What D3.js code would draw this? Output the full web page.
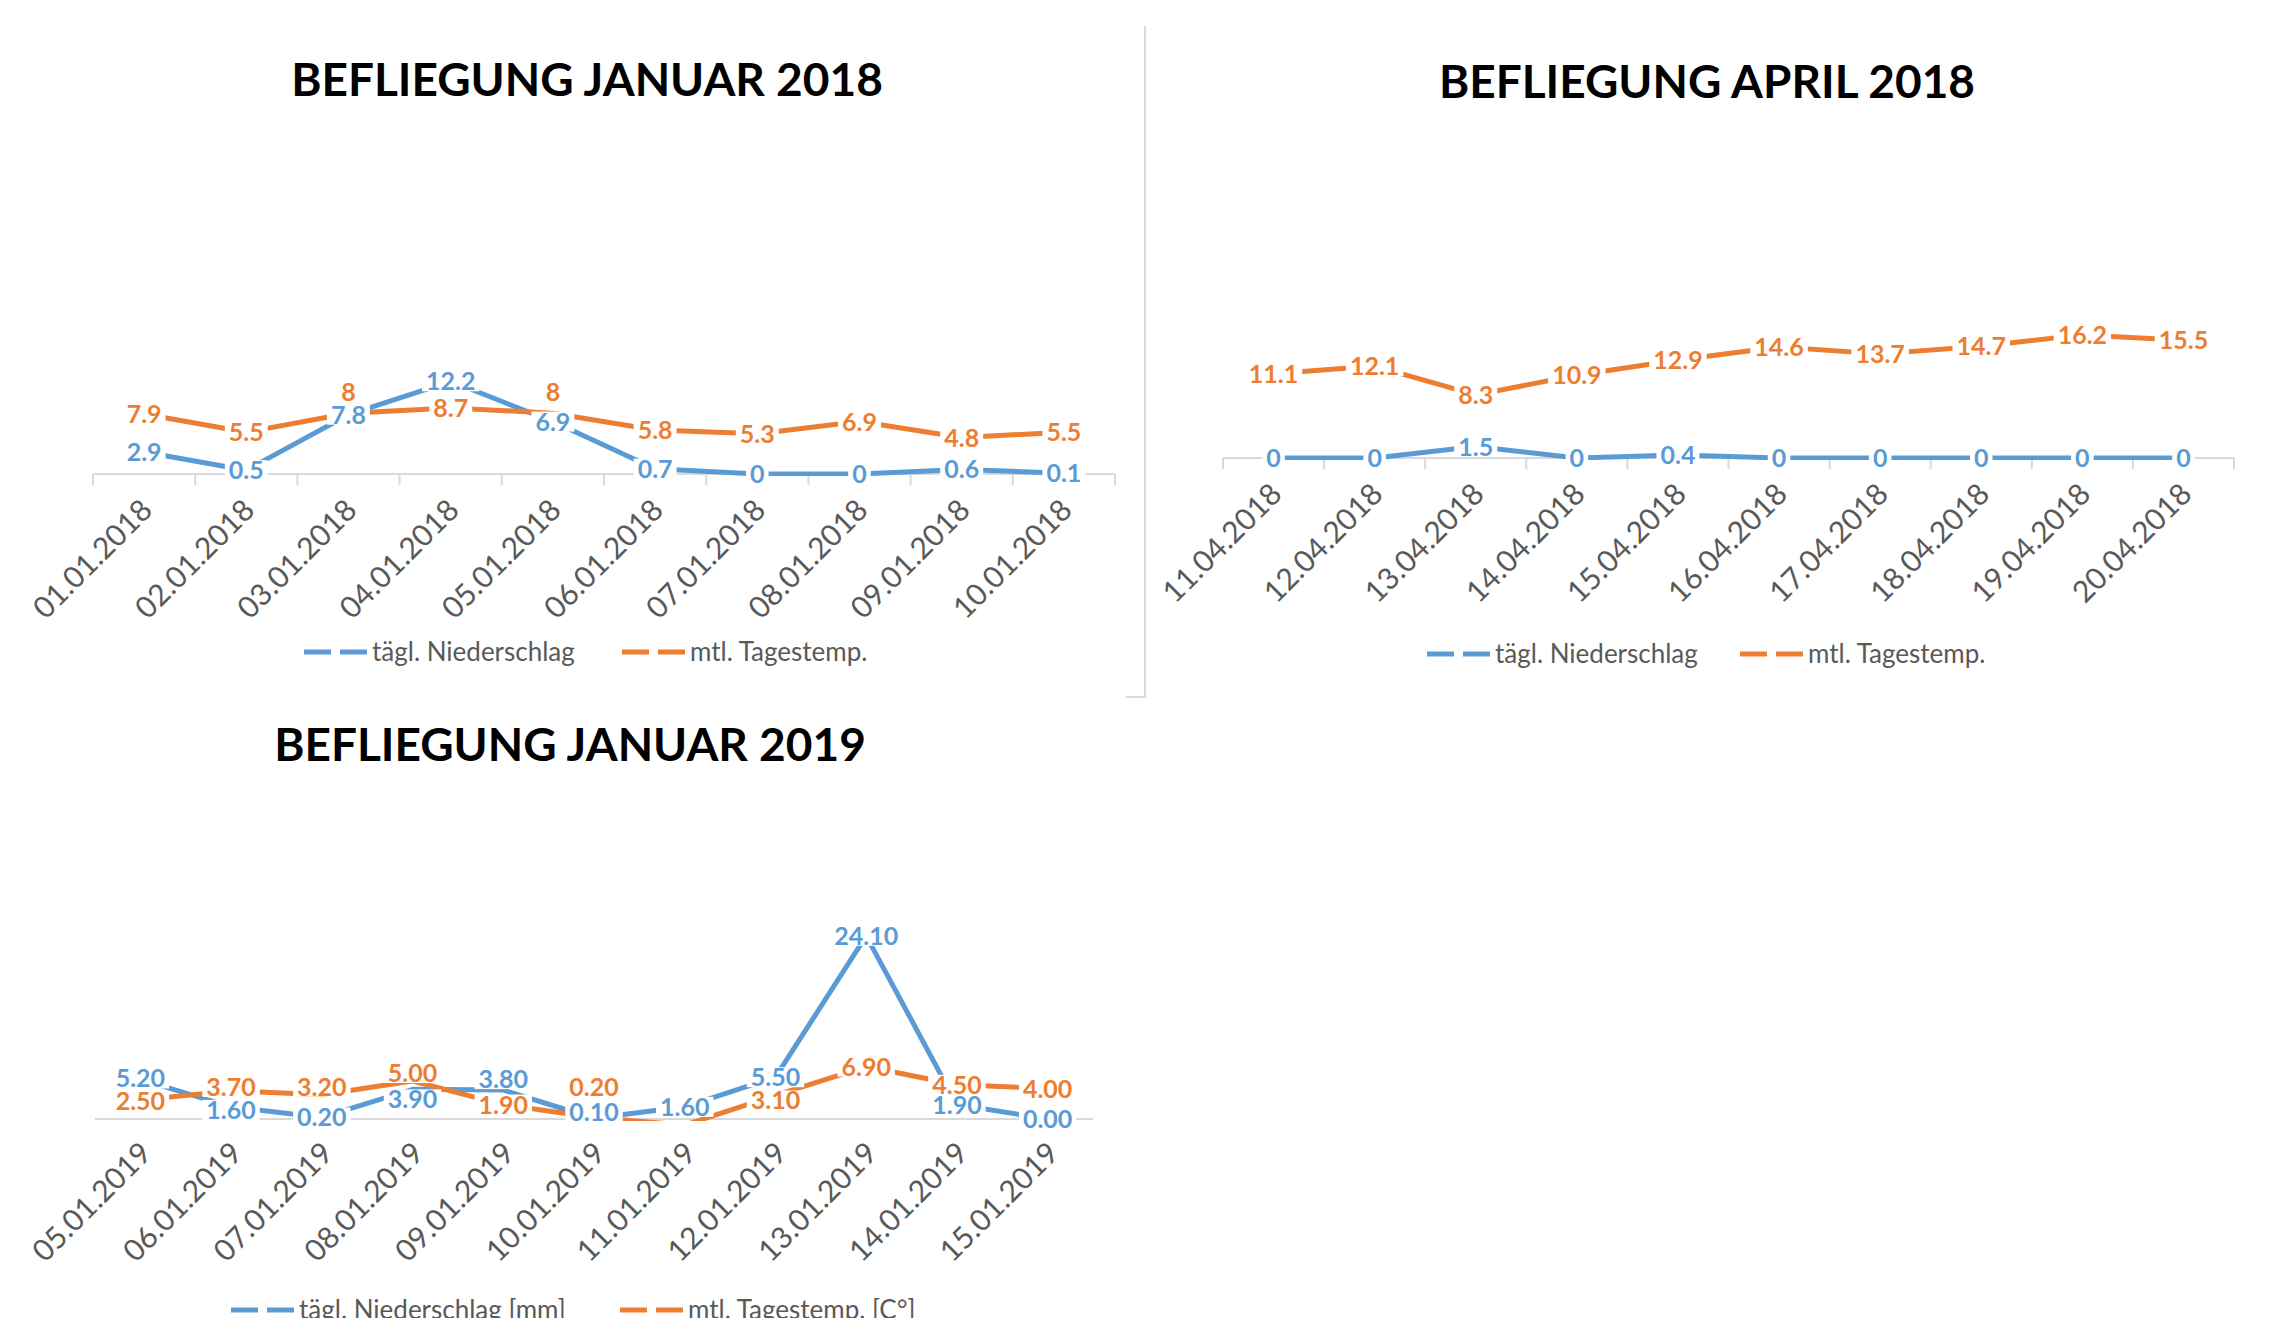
<!DOCTYPE html>
<html>
<head>
<meta charset="utf-8">
<script src="https://cdn.jsdelivr.net/npm/d3@7"></script>
<style>
body{margin:0;background:#fff;}
svg text{font-family:Lato,"Open Sans",sans-serif;}
</style>
</head>
<body>
<svg id="chart" width="2269" height="1318"></svg>
<script>
// values
var jan18_days = ["01.01.2018","02.01.2018","03.01.2018","04.01.2018","05.01.2018",
	"06.01.2018","07.01.2018","08.01.2018","09.01.2018","10.01.2018"];
var jan18_rain = [2.9,0.5,7.8,12.2,6.9,0.7,0,0,0.6,0.1];
var jan18_temp = [7.9,5.5,8,8.7,8,5.8,5.3,6.9,4.8,5.5];

var apr18_days = ["11.04.2018","12.04.2018","13.04.2018","14.04.2018","15.04.2018",
	"16.04.2018","17.04.2018","18.04.2018","19.04.2018","20.04.2018"];
var apr18_rain = [0,0,1.5,0,0.4,0,0,0,0,0];
var apr18_temp = [11.1,12.1,8.3,10.9,12.9,14.6,13.7,14.7,16.2,15.5];

var jan19_days = ["05.01.2019","06.01.2019","07.01.2019","08.01.2019","09.01.2019","10.01.2019",
	"11.01.2019","12.01.2019","13.01.2019","14.01.2019","15.01.2019"];
var jan19_rain = [5.2,1.6,0.2,3.9,3.8,0.1,1.6,5.5,24.1,1.9,0];
var jan19_temp = [2.5,3.7,3.2,5.0,1.9,0.2,-0.8,3.1,6.9,4.5,4.0];

var legend18 = ["tägl. Niederschlag","mtl. Tagestemp."];
var legend19 = ["tägl. Niederschlag [mm]","mtl. Tagestemp. [C°]"];
var colors = ["#5B9BD5","#ED7D31"];

var svg = d3.select("#chart");
svg.append("rect").attr("width",2269).attr("height",1318).attr("fill","#fff");

// chart border piece between the panels
svg.append("path").attr("d","M1145,26V697H1126")
	.attr("fill","none").attr("stroke","#d9d9d9").attr("stroke-width",2);

var clipId = 0;
function drawChart(o){
	var g = svg.append("g");
	var x = d3.scaleBand().domain(o.days).range([o.x0,o.x1]);
	var y = d3.scaleLinear().domain([0,30]).range([o.base,o.base-30*7.6]);
	var cx = function(d){ return x(d) + x.bandwidth()/2; };

	g.append("text").text(o.title)
		.attr("x",o.titleX).attr("y",o.titleY)
		.attr("text-anchor","middle").attr("font-size",46).attr("font-weight","bold")
		.attr("fill","#000");

	// axis line / gridline
	g.append("line").attr("x1",o.x0).attr("x2",o.x1)
		.attr("y1",o.base).attr("y2",o.base)
		.attr("stroke","#d9d9d9").attr("stroke-width",2);
	if(o.ticks){
		g.selectAll(".tk").data(d3.range(o.days.length+1)).enter().append("line")
			.attr("x1",function(i){ return o.x0 + i*x.step(); })
			.attr("x2",function(i){ return o.x0 + i*x.step(); })
			.attr("y1",o.base).attr("y2",o.base+11)
			.attr("stroke","#d9d9d9").attr("stroke-width",2);
	}
	// category labels
	g.selectAll(".cat").data(o.days).enter().append("text")
		.text(function(d){ return d; })
		.attr("transform",function(d){
			return "translate("+(cx(d)+o.catOff[0])+","+(o.base+o.catOff[1])+") rotate(-45)"; })
		.attr("text-anchor","end").attr("font-size",30).attr("fill","#595959");

	// lines
	var cid = "clip"+(clipId++);
	g.append("clipPath").attr("id",cid).append("rect")
		.attr("x",o.x0).attr("y",o.base-300).attr("width",o.x1-o.x0).attr("height",302);
	var line = d3.line().x(function(d,i){ return cx(o.days[i]); }).y(function(d){ return y(d); });
	var lg = g.append("g").attr("clip-path","url(#"+cid+")");
	o.series.forEach(function(s,k){
		lg.append("path").attr("d",line(s)).attr("fill","none")
			.attr("stroke",colors[k]).attr("stroke-width",5)
			.attr("stroke-linejoin","round");
	});

	// data labels with white boxes
	o.series.forEach(function(s,k){
		s.forEach(function(v,i){
			if(v < 0) return;
			var dy = (o.shift && o.shift[k+"-"+i]) || 0;
			var lab = g.append("g").attr("transform","translate("+cx(o.days[i])+","+(y(v)+dy)+")");
			var t = lab.append("text").text(o.fmt(v))
				.attr("text-anchor","middle").attr("dy","0.36em")
				.attr("font-size",25).attr("font-weight","bold").attr("fill",colors[k]);
			var b = t.node().getBBox();
			lab.insert("rect","text").attr("x",b.x-4).attr("y",-10)
				.attr("width",b.width+8).attr("height",20).attr("fill","#fff");
		});
	});

	// legend
	o.legend.forEach(function(name,k){
		var lx = o.legendX[k];
		g.append("line").attr("x1",lx).attr("x2",lx+63)
			.attr("y1",o.legendY).attr("y2",o.legendY)
			.attr("stroke",colors[k]).attr("stroke-width",5).attr("stroke-dasharray","27,9");
		g.append("text").text(name).attr("x",lx+68).attr("y",o.legendY).attr("dy","0.35em")
			.attr("font-size",26).attr("fill","#595959");
	});
}

var fmt1 = function(v){ return String(v); };
var fmt2 = d3.format(".2f");

drawChart({title:"BEFLIEGUNG JANUAR 2018", titleX:587, titleY:96,
	days:jan18_days, series:[jan18_rain,jan18_temp], x0:93, x1:1115, base:474,
	ticks:true, catOff:[10,38], fmt:fmt1, legend:legend18, legendX:[304,622], legendY:652,
	shift:{"1-2":-21,"1-4":-21}});

drawChart({title:"BEFLIEGUNG APRIL 2018", titleX:1707, titleY:98,
	days:apr18_days, series:[apr18_rain,apr18_temp], x0:1223, x1:2234, base:458,
	ticks:true, catOff:[10,38], fmt:fmt1, legend:legend18, legendX:[1427,1740], legendY:654});

drawChart({title:"BEFLIEGUNG JANUAR 2019", titleX:570, titleY:761,
	days:jan19_days, series:[jan19_rain,jan19_temp], x0:95, x1:1093, base:1119,
	ticks:false, catOff:[13,36], fmt:fmt2, legend:legend19, legendX:[231,620], legendY:1310,
	shift:{"1-1":-4,"0-1":3,"0-0":-1,"1-0":1,"1-2":-8,"1-3":-8,"0-3":10,"0-4":-11,
		"1-5":-30,"0-5":-6,"1-7":5}});
</script>
</body>
</html>
